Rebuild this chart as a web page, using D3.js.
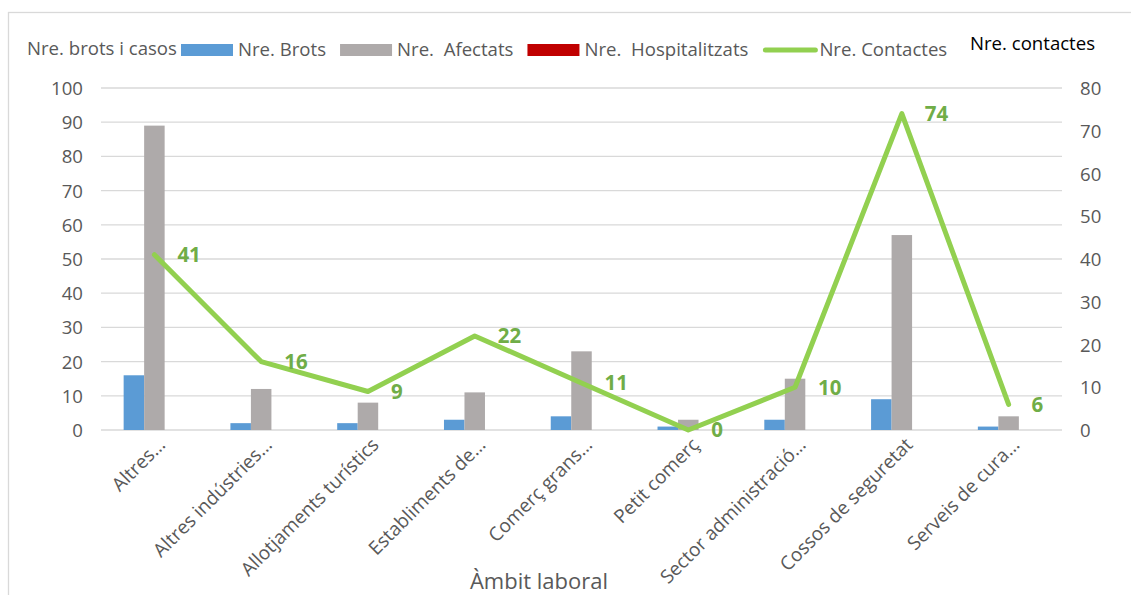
<!DOCTYPE html>
<html>
<head>
<meta charset="utf-8">
<script src="https://cdn.jsdelivr.net/npm/d3@7"></script>
<style>
  html, body { margin: 0; padding: 0; background: #fff; }
  svg { display: block; font-family: "Open Sans", sans-serif; }
  text { white-space: pre; }
</style>
</head>
<body>
<svg id="chart" width="1131" height="595"></svg>
<script>
// ---- data ----
const categories = ["Altres…", "Altres indústries…", "Allotjaments turístics", "Establiments de…",
  "Comerç grans…", "Petit comerç", "Sector administració…", "Cossos de seguretat", "Serveis de cura…"];
const brots = [16, 2, 2, 3, 4, 1, 3, 9, 1];
const afectats = [89, 12, 8, 11, 23, 3, 15, 57, 4];
const hospitalitzats = [0, 0, 0, 0, 0, 0, 0, 0, 0];
const contactes = [41, 16, 9, 22, 11, 0, 10, 74, 6];
const leftTicks = [0, 10, 20, 30, 40, 50, 60, 70, 80, 90, 100];
const rightTicks = [0, 10, 20, 30, 40, 50, 60, 70, 80];
const barSeries = [
  { name: "Nre. Brots", values: brots, color: "#5B9BD5" },
  { name: "Nre.  Afectats", values: afectats, color: "#AEAAAA" },
  { name: "Nre.  Hospitalitzats", values: hospitalitzats, color: "#C00000" }
];
const lineSeries = { name: "Nre. Contactes", values: contactes, color: "#92D050" };

// ---- layout ----
const svg = d3.select("#chart");
const plot = { left: 101, right: 1062, top: 88, bottom: 430 };
const x = d3.scaleBand().domain(categories).range([plot.left, plot.right]).padding(0);
const yL = d3.scaleLinear().domain([0, 100]).range([plot.bottom, plot.top]);
const yR = d3.scaleLinear().domain([0, 80]).range([plot.bottom, plot.top]);
const barW = 20.5;
const xs = d3.scaleBand().domain(barSeries.map(s => s.name))
  .range([-barW * 1.5, barW * 1.5]).padding(0);
const gray = "#595959";
const fs = 18.6;

// frame
svg.append("rect").attr("x", 8.5).attr("y", 12.5).attr("width", 1140).attr("height", 600)
  .attr("fill", "none").attr("stroke", "#D9D9D9").attr("stroke-width", 1.3);

// gridlines
svg.append("g").selectAll("line").data(leftTicks).join("line")
  .attr("x1", plot.left).attr("x2", plot.right)
  .attr("y1", d => yL(d)).attr("y2", d => yL(d))
  .attr("stroke", "#D9D9D9").attr("stroke-width", 1.3);

// left axis
const axL = d3.axisLeft(yL).tickValues(leftTicks).tickSize(0).tickPadding(0);
const gL = svg.append("g").attr("transform", "translate(83,0)").call(axL);
gL.select(".domain").remove();
gL.selectAll("text").attr("font-size", fs).attr("fill", gray)
  .attr("font-family", "Open Sans").attr("dy", "0.35em");

// right axis
const axR = d3.axisRight(yR).tickValues(rightTicks).tickSize(0).tickPadding(0);
const gR = svg.append("g").attr("transform", "translate(1080,0)").call(axR);
gR.select(".domain").remove();
gR.selectAll("text").attr("font-size", fs).attr("fill", gray)
  .attr("font-family", "Open Sans").attr("dy", "0.35em");

// bars
barSeries.forEach(s => {
  svg.append("g").selectAll("rect").data(s.values).join("rect")
    .attr("x", (d, i) => x(categories[i]) + x.bandwidth() / 2 + xs(s.name))
    .attr("width", xs.bandwidth())
    .attr("y", d => yL(d))
    .attr("height", d => yL(0) - yL(d))
    .attr("fill", s.color);
});

// line
const cx = i => x(categories[i]) + x.bandwidth() / 2;
const line = d3.line().x((d, i) => cx(i)).y(d => yR(d));
svg.append("path").datum(lineSeries.values).attr("d", line)
  .attr("fill", "none").attr("stroke", lineSeries.color).attr("stroke-width", 5)
  .attr("stroke-linejoin", "round").attr("stroke-linecap", "round");

// line labels
svg.append("g").selectAll("text").data(lineSeries.values).join("text")
  .attr("x", (d, i) => cx(i) + 23).attr("y", d => yR(d)).attr("dy", "0.36em")
  .attr("font-size", 20.5).attr("font-weight", "bold").attr("fill", "#70AD47")
  .text(d => d);

// x labels
svg.append("g").selectAll("text").data(categories).join("text")
  .attr("transform", (d, i) => `translate(${cx(i) + 12},${446}) rotate(-45)`)
  .attr("text-anchor", "end").attr("font-size", 19).attr("fill", gray)
  .text(d => d);

// axis title
svg.append("text").attr("x", 539).attr("y", 589).attr("text-anchor", "middle")
  .attr("font-size", 22).attr("fill", gray).text("Àmbit laboral");

// axis titles top
svg.append("text").attr("x", 27).attr("y", 55).attr("font-size", fs).attr("fill", gray)
  .text("Nre. brots i casos");
svg.append("text").attr("x", 970).attr("y", 50).attr("font-size", fs).attr("fill", "#000")
  .text("Nre. contactes");

// legend
const leg = svg.append("g");
let lx = 181;
const legItems = barSeries.map(s => ({ name: s.name, color: s.color, type: "bar" }))
  .concat([{ name: lineSeries.name, color: lineSeries.color, type: "line" }]);
legItems.forEach(it => {
  if (it.type === "bar") {
    leg.append("rect").attr("x", lx).attr("y", 44).attr("width", 52).attr("height", 12).attr("fill", it.color);
  } else {
    leg.append("line").attr("x1", lx + 3).attr("x2", lx + 53).attr("y1", 50).attr("y2", 50)
      .attr("stroke", it.color).attr("stroke-width", 5).attr("stroke-linecap", "round");
  }
  const t = leg.append("text").attr("x", lx + 57).attr("y", 56).attr("font-size", fs)
    .attr("fill", gray).text(it.name);
  lx += 57 + t.node().getComputedTextLength() + 14;
});
</script>
</body>
</html>
